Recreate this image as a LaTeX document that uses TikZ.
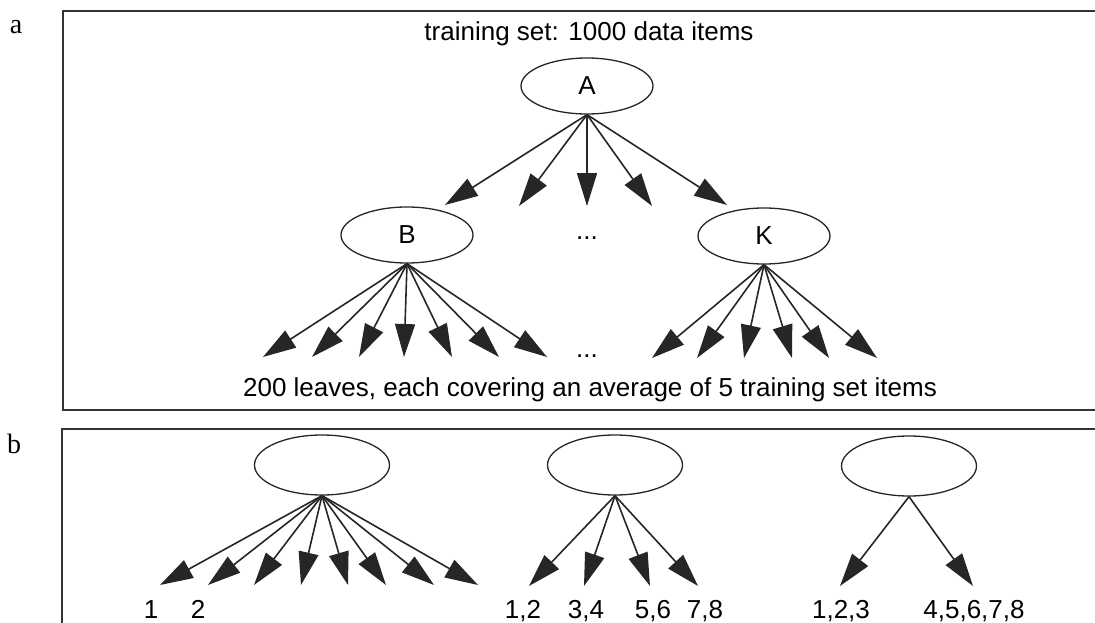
\documentclass[tikz,border=0pt]{standalone}
\usepackage{fontspec}
\setmainfont{Liberation Sans}
\newfontfamily\panelfont{Liberation Serif}
\usetikzlibrary{shapes.geometric,arrows.meta}

\begin{document}
\begin{tikzpicture}[x=1pt, y=-1pt,
  split/.style={shape=ellipse, draw=black!85, line width=1.3pt, minimum width=132pt, minimum height=56pt, inner sep=0pt, font=\fontsize{26}{30}\selectfont},
  blank/.style={split, minimum width=135pt, minimum height=60pt},
  branch/.style={-{Triangle[length=33pt,width=20pt]}, line width=1.6pt, draw=black!85},
  frame/.style={draw=black!80, line width=1.9pt},
  txt/.style={anchor=base, inner sep=0pt, font=\fontsize{26}{30}\selectfont},
  panel/.style={anchor=base, inner sep=0pt, font=\panelfont\fontsize{28}{32}\selectfont}]
\clip (0,0) rectangle (1095,623);
\draw[frame] (63,11) rectangle (1110,410);
\draw[frame] (62,429) rectangle (1110,640);
\node[panel] (la) at (16,34) {a};
\node[panel] (lb) at (14,453) {b};
% panel a
\node[txt] (top) at (589,41) {training set: 1000 data items};
\node[split] (A) at (587,86) {A};
\node[split] (B) at (407,235) {B};
\node[split] (K) at (764,236) {K};
\node[txt] (dots1) at (587,239) {...};
\node[txt] (dots2) at (587,357) {...};
\node[txt] (leaves) at (590,396) {200 leaves, each covering an average of 5 training set items};
\coordinate (a1) at (445,205);
\coordinate (a2) at (519,206);
\coordinate (a3) at (587,206);
\coordinate (a4) at (652,206);
\coordinate (a5) at (727,205);
\coordinate (b1) at (263,357);
\coordinate (b2) at (312,357);
\coordinate (b3) at (359,357);
\coordinate (b4) at (404,357);
\coordinate (b5) at (452,357);
\coordinate (b6) at (499,357);
\coordinate (b7) at (547,357);
\coordinate (k1) at (652,358);
\coordinate (k2) at (697,358);
\coordinate (k3) at (744,358);
\coordinate (k4) at (792,358);
\coordinate (k5) at (829,358);
\coordinate (k6) at (877,358);
\draw [branch] (A.south) -- (a1);
\draw [branch] (A.south) -- (a2);
\draw [branch] (A.south) -- (a3);
\draw [branch] (A.south) -- (a4);
\draw [branch] (A.south) -- (a5);
\draw [branch] (B.south) -- (b1);
\draw [branch] (B.south) -- (b2);
\draw [branch] (B.south) -- (b3);
\draw [branch] (B.south) -- (b4);
\draw [branch] (B.south) -- (b5);
\draw [branch] (B.south) -- (b6);
\draw [branch] (B.south) -- (b7);
\draw [branch] (K.south) -- (k1);
\draw [branch] (K.south) -- (k2);
\draw [branch] (K.south) -- (k3);
\draw [branch] (K.south) -- (k4);
\draw [branch] (K.south) -- (k5);
\draw [branch] (K.south) -- (k6);
% panel b
\node[blank] (P) at (322,465) {};
\node[blank] (Q) at (615,465) {};
\node[blank] (R) at (909,466) {};
\coordinate (p1) at (160,585);
\coordinate (p2) at (208,585);
\coordinate (p3) at (254,585);
\coordinate (p4) at (301,585);
\coordinate (p5) at (348,585);
\coordinate (p6) at (386,585);
\coordinate (p7) at (434,585);
\coordinate (p8) at (478,585);
\coordinate (q1) at (529,586);
\coordinate (q2) at (584,586);
\coordinate (q3) at (650,586);
\coordinate (q4) at (698,586);
\coordinate (r1) at (840,586);
\coordinate (r2) at (973,586);
\draw [branch] (P.south) -- (p1);
\draw [branch] (P.south) -- (p2);
\draw [branch] (P.south) -- (p3);
\draw [branch] (P.south) -- (p4);
\draw [branch] (P.south) -- (p5);
\draw [branch] (P.south) -- (p6);
\draw [branch] (P.south) -- (p7);
\draw [branch] (P.south) -- (p8);
\draw [branch] (Q.south) -- (q1);
\draw [branch] (Q.south) -- (q2);
\draw [branch] (Q.south) -- (q3);
\draw [branch] (Q.south) -- (q4);
\draw [branch] (R.south) -- (r1);
\draw [branch] (R.south) -- (r2);
\node[txt] (n1) at (151,618) {1};
\node[txt] (n2) at (198,618) {2};
\node[txt] (n12) at (523,618) {1,2};
\node[txt] (n34) at (586,618) {3,4};
\node[txt] (n56) at (653,618) {5,6};
\node[txt] (n78) at (705,618) {7,8};
\node[txt] (n123) at (841,618) {1,2,3};
\node[txt] (n45678) at (974,618) {4,5,6,7,8};
\end{tikzpicture}
\end{document}
